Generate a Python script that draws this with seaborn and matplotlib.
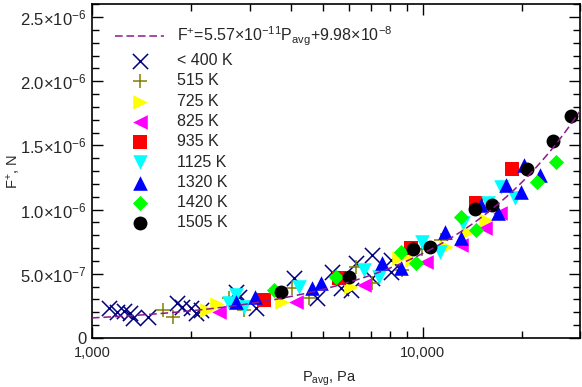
import numpy as np
import pandas as pd
import matplotlib
matplotlib.use('Agg')
import matplotlib.pyplot as plt
import matplotlib.ticker as mticker
import seaborn as sns

# data (P in Pa, F in units of 1e-7 N)
labels = ['< 400 K', '515 K', '725 K', '825 K', '935 K', '1125 K', '1320 K', '1420 K', '1505 K']

p_400 = [1125, 1190, 1248, 1302, 1329, 1475, 1803, 1866, 2000, 2071, 2144, 2734, 2791, 3141,
         4088, 4794, 5321, 5662, 6070, 6285, 7020, 7020, 8008, 8008]
f_400 = [2.33, 2.02, 2.10, 1.94, 1.56, 1.63, 2.72, 2.41, 2.33, 1.94, 2.18, 3.58, 3.19, 2.33,
         4.67, 3.11, 5.13, 3.89, 3.73, 5.83, 6.45, 4.67, 5.13, 6.07]
p_515 = [1636, 1754, 2604, 2889, 4031, 4536, 6285, 7020, 8643, 9931, 11410]
f_515 = [2.18, 1.63, 3.11, 2.18, 3.89, 3.11, 5.52, 4.28, 5.29, 6.92, 7.62]
p_725 = [2235, 2396, 3762, 6070, 8465, 9267, 11810, 13760, 15590]
f_725 = [2.18, 2.64, 2.80, 3.97, 6.22, 6.07, 7.08, 8.24, 9.18]
p_825 = [2430, 4145, 6641, 10280, 13100, 15480, 17180]
f_825 = [2.02, 2.80, 4.12, 5.91, 7.23, 8.55, 9.72]
p_935 = [3320, 5585, 9203, 14540, 18670]
f_935 = [2.95, 4.67, 7.00, 10.50, 13.14]
p_1125 = [2604, 2734, 2889, 4232, 6641, 7369, 9931, 11330, 13290, 15810, 17300, 19060]
f_1125 = [2.72, 3.35, 2.41, 3.97, 5.29, 4.74, 7.47, 6.69, 8.94, 10.50, 11.74, 10.89]
p_1320 = [2734, 3119, 4632, 4930, 7524, 8583, 11730, 13100, 15060, 16940, 17910, 19870, 20290, 22660]
f_1320 = [2.80, 3.19, 3.89, 4.28, 5.83, 5.44, 8.24, 7.78, 10.34, 9.72, 11.90, 11.35, 13.45, 12.67]
p_1420 = [3559, 5470, 8583, 9526, 13100, 14540, 22200, 25330]
f_1420 = [3.73, 4.74, 6.69, 5.83, 9.41, 8.40, 12.13, 13.69]
p_1505 = [3736, 5985, 9331, 10570, 14440, 16250, 20710, 24810, 28110]
f_1505 = [3.58, 4.74, 6.92, 7.08, 10.03, 10.34, 13.14, 15.32, 17.26]

# linear fit F = a*P + b
fit_a = 5.57e-11
fit_b = 9.98e-8
fit_p = [1000, 30000]

colors = ['#000080', '#808000', '#ffff00', '#ff00ff', '#ff0000', '#00ffff', '#0000ff', '#00ff00', '#000000']
markers = ['x', '+', '>', '<', 's', 'v', '^', 'D', 'o']
sizes = [120, 110, 110, 110, 110, 110, 110, 60, 100]

groups = [(p_400, f_400), (p_515, f_515), (p_725, f_725), (p_825, f_825), (p_935, f_935),
          (p_1125, f_1125), (p_1320, f_1320), (p_1420, f_1420), (p_1505, f_1505)]

sns.set_theme(style='ticks')
plt.rcParams['font.family'] = ['Liberation Sans', 'DejaVu Sans']
plt.rcParams['mathtext.fontset'] = 'custom'
plt.rcParams['mathtext.rm'] = 'Liberation Sans'
plt.rcParams['mathtext.it'] = 'Liberation Sans:italic'
plt.rcParams['mathtext.bf'] = 'Liberation Sans:bold'

fig = plt.figure(figsize=(5.82, 3.87), dpi=100)
ax = fig.add_axes([0.158, 0.127, 0.839, 0.862])

# fit line
px = np.logspace(np.log10(fit_p[0]), np.log10(fit_p[1]), 200)
ax.plot(px, fit_a * px + fit_b, color='#8b1a8b', ls=(0, (5, 2.5)), lw=1.1, zorder=5,
        label='F$^{+}$=5.57×10$^{-11}$P$_{\\rm avg}$+9.98×10$^{-8}$')

for (p, f), lab, c, m, s in zip(groups, labels, colors, markers, sizes):
    df = pd.DataFrame({'P': p, 'F': np.array(f) * 1e-7})
    if m in ('x', '+'):
        sns.scatterplot(data=df, x='P', y='F', ax=ax, marker=m, color=c, s=s,
                        linewidth=1.1, label=lab, zorder=3)
    else:
        sns.scatterplot(data=df, x='P', y='F', ax=ax, marker=m, color=c, s=s,
                        linewidth=0, label=lab, zorder=3)

ax.set_xscale('log')
ax.set_xlim(1000, 30000)
ax.set_ylim(0, 2.6e-6)

ax.xaxis.set_major_locator(mticker.FixedLocator([1000, 10000]))
ax.xaxis.set_minor_locator(mticker.LogLocator(base=10, subs=np.arange(2, 10), numticks=10))
ax.xaxis.set_major_formatter(mticker.FuncFormatter(lambda v, pos: f'{v:,.0f}'))
ax.xaxis.set_minor_formatter(mticker.NullFormatter())

def yfmt(v, pos):
    if v < 1e-12:
        return '0'
    e = int(np.floor(np.log10(v) + 1e-9))
    m = v / 10 ** e
    return '%.1f×10$^{%d}$' % (m, e)

ax.yaxis.set_major_locator(mticker.FixedLocator([0, 5e-7, 1e-6, 1.5e-6, 2e-6, 2.5e-6]))
ax.yaxis.set_minor_locator(mticker.MultipleLocator(1e-7))
ax.yaxis.set_major_formatter(mticker.FuncFormatter(yfmt))

ax.tick_params(which='both', direction='in', top=True, right=True, labelsize=10.5,
               color='black', width=1.0)
ax.tick_params(axis='y', labelsize=12, pad=4)
ax.tick_params(axis='x', pad=6)
ax.tick_params(which='major', length=8)
ax.tick_params(which='minor', length=5)
for sp in ax.spines.values():
    sp.set_linewidth(1.2)
    sp.set_color('black')

ax.set_xlabel('P$_{\\rm avg}$, Pa', fontsize=10.5)
ax.set_ylabel('F$^{+}$, N', fontsize=10.5)
ax.xaxis.set_label_coords(0.487, -0.095)
ax.yaxis.set_label_coords(-0.143, 0.5)

ax.legend(loc='upper left', bbox_to_anchor=(0.034, 0.958), frameon=False, fontsize=11.5,
          handlelength=3.1, handletextpad=0.8, labelspacing=0.33, borderaxespad=0)

fig.savefig('out.png', dpi=100)
